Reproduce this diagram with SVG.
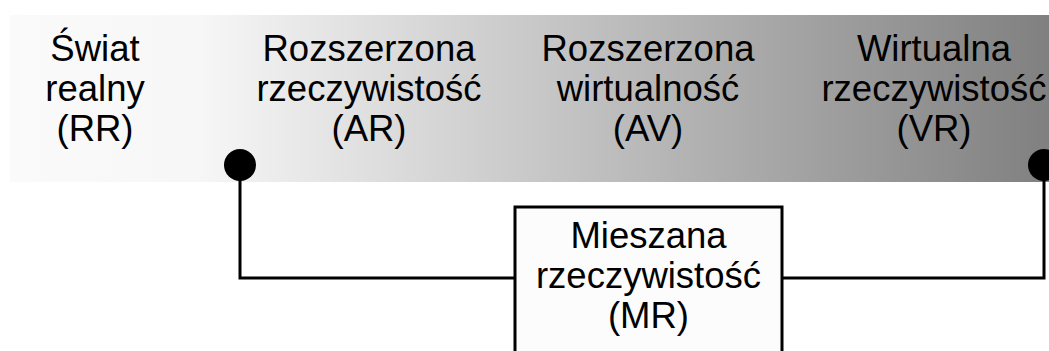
<svg xmlns="http://www.w3.org/2000/svg" width="1049" height="351" viewBox="0 0 1049 351">
  <defs>
    <linearGradient id="bandFill" gradientUnits="userSpaceOnUse" x1="10" y1="0" x2="1049" y2="0">
      <stop offset="0" stop-color="#fafafa"/>
      <stop offset="0.18" stop-color="#f7f7f7"/>
      <stop offset="1" stop-color="#808080"/>
    </linearGradient>
  </defs>
  <style>
    .lbl { font-family: "Liberation Sans", Arial, sans-serif; font-size: 36.5px; fill: #000; text-anchor: middle; }
    .conn { fill: none; stroke: #000; stroke-width: 3; }
    .dot { fill: #000; }
    .box { fill: #fcfcfc; stroke: #000; stroke-width: 3; }
  </style>
  <rect width="1049" height="351" fill="#ffffff"/>

  <!-- reality–virtuality continuum band -->
  <rect id="band" x="10" y="15" width="1039" height="167" fill="url(#bandFill)"/>

  <g id="node-rr">
    <text class="lbl" x="95" y="61">Świat</text>
    <text class="lbl" x="95" y="101">realny</text>
    <text class="lbl" x="95" y="141">(RR)</text>
  </g>
  <g id="node-ar">
    <text class="lbl" x="369" y="61">Rozszerzona</text>
    <text class="lbl" x="369" y="101">rzeczywistość</text>
    <text class="lbl" x="369" y="141">(AR)</text>
  </g>
  <g id="node-av">
    <text class="lbl" x="648" y="61">Rozszerzona</text>
    <text class="lbl" x="648" y="101">wirtualność</text>
    <text class="lbl" x="648" y="141">(AV)</text>
  </g>
  <g id="node-vr">
    <text class="lbl" x="934" y="61">Wirtualna</text>
    <text class="lbl" x="934" y="101">rzeczywistość</text>
    <text class="lbl" x="934" y="141">(VR)</text>
  </g>

  <g id="connectors">
    <path class="conn" d="M240,165 V278 H515"/>
    <path class="conn" d="M782,278 H1044 V165"/>
    <circle class="dot" cx="240" cy="165" r="16"/>
    <circle class="dot" cx="1044" cy="165" r="16"/>
  </g>

  <g id="node-mr">
    <rect class="box" x="515" y="207" width="267" height="160"/>
    <text class="lbl" x="648.5" y="248">Mieszana</text>
    <text class="lbl" x="648.5" y="288">rzeczywistość</text>
    <text class="lbl" x="648.5" y="328">(MR)</text>
  </g>
</svg>
